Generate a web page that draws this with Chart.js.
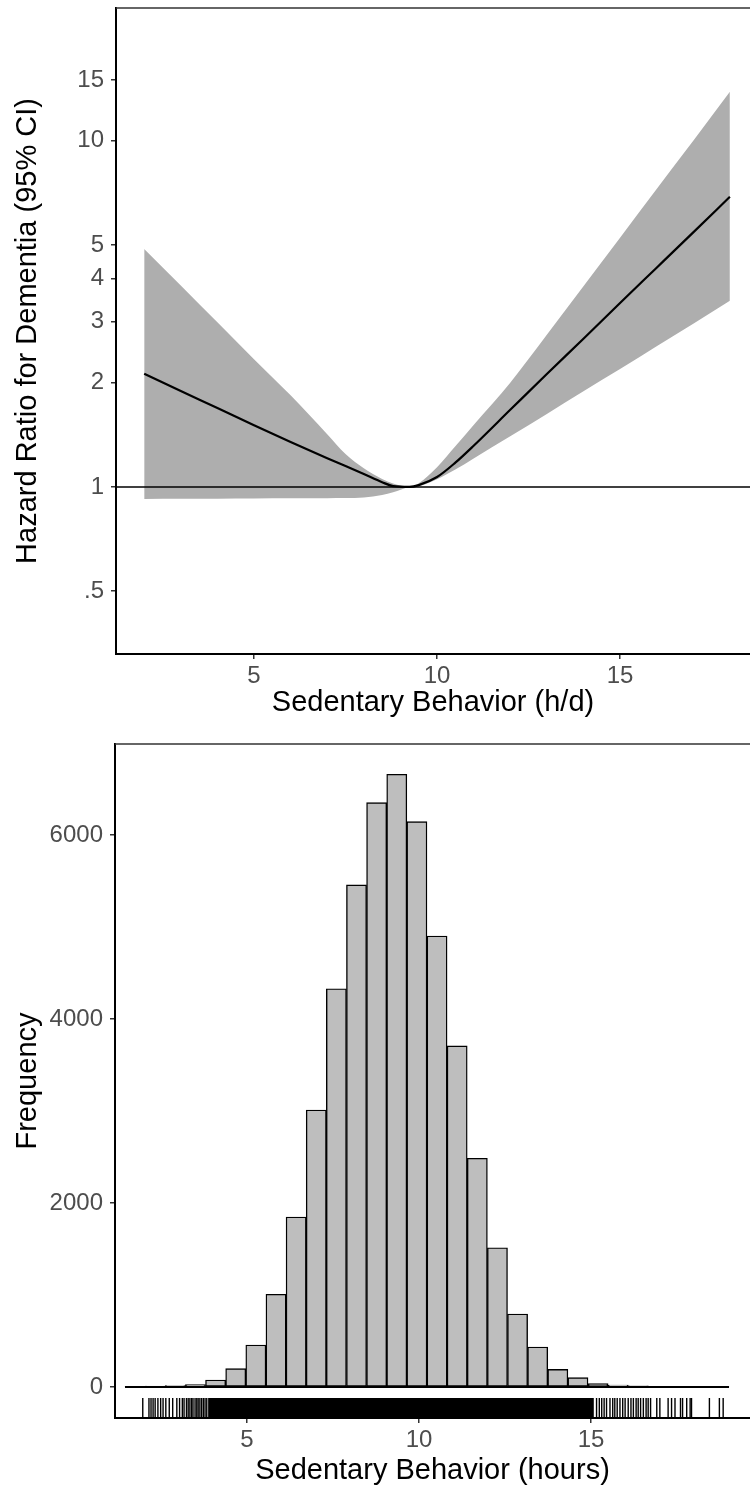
<!DOCTYPE html>
<html>
<head>
<meta charset="utf-8">
<script src="https://cdn.jsdelivr.net/npm/chart.js@4.4.1/dist/chart.umd.min.js"></script>
<style>
  html, body { margin: 0; padding: 0; background: #fff; }
  #wrap { position: relative; width: 750px; height: 1488px; }
  canvas { position: absolute; left: 0; }
  #hrChart { top: 0; }
  #histChart { top: 720px; }
</style>
</head>
<body>
<div id="wrap">
  <canvas id="hrChart" width="750" height="720"></canvas>
  <canvas id="histChart" width="750" height="768"></canvas>
</div>
<script>
// spline for hazard ratio (top panel)
const hrX      = [2, 3, 4, 5, 6, 7, 7.5, 8, 8.5, 8.8, 9.25, 9.5, 10, 10.5, 11, 12, 13, 14, 15, 16, 17, 18];
const hrValues = [2.123, 1.892, 1.69, 1.507, 1.349, 1.211, 1.150, 1.090, 1.032, 1.005, 1.0, 1.012, 1.068, 1.175, 1.315, 1.67, 2.12, 2.68, 3.40, 4.30, 5.44, 6.89];
const hrUpper  = [4.87, 3.82, 2.99, 2.34, 1.84, 1.42, 1.245, 1.132, 1.054, 1.023, 1.0, 1.025, 1.14, 1.31, 1.51, 2.0, 2.75, 3.80, 5.25, 7.26, 10.0, 13.86];
const hrLower  = [0.923, 0.924, 0.925, 0.926, 0.927, 0.928, 0.929, 0.932, 0.948, 0.965, 1.0, 1.005, 1.052, 1.122, 1.208, 1.40, 1.625, 1.89, 2.19, 2.55, 2.96, 3.45];
const hrRef = 1;
const hrTicks = [0.5, 1, 2, 3, 4, 5, 10, 15];
const hrTickLabels = ['.5', '1', '2', '3', '4', '5', '10', '15'];
const hrXRange = [1.23, 18.55];
const hrYRange = [0.329, 24.2];

// histogram (bottom panel)
const binCenters = [1.747, 2.332, 2.917, 3.502, 4.087, 4.672, 5.257, 5.843, 6.428, 7.013,
                    7.598, 8.183, 8.768, 9.353, 9.938, 10.523, 11.108, 11.694, 12.279, 12.864,
                    13.449, 14.034, 14.619, 15.204, 15.789, 16.374, 16.959, 17.545, 18.130, 18.715];
const binCounts  = [5, 10, 15, 25, 76, 199, 456, 1008, 1848, 3011,
                    4329, 5457, 6351, 6660, 6145, 4902, 3707, 2486, 1514, 793,
                    435, 192, 101, 36, 22, 12, 8, 6, 4, 5];
const histRange = [1.454, 19.01];
const rugDense = [3.87, 15.08];
const rugTicks = [1.97, 2.15, 2.21, 2.27, 2.33, 2.41, 2.49, 2.56, 2.64, 2.74, 2.84, 2.96, 3.04, 3.12, 3.17,
                  3.24, 3.29, 3.34, 3.39, 3.43, 3.49, 3.54, 3.58, 3.63, 3.68, 3.73, 3.78, 3.83,
                  15.16, 15.24, 15.31, 15.38, 15.45, 15.55, 15.63, 15.69, 15.76, 15.84, 15.92, 15.99,
                  16.08, 16.16, 16.23, 16.31, 16.37, 16.44, 16.52, 16.60, 16.66, 16.73, 16.91, 17.00,
                  17.24, 17.34, 17.44, 17.60, 17.66, 17.78, 17.88, 17.92, 18.44, 18.73, 18.84];
const rugLevel = -223;
const freqTicks = [0, 2000, 4000, 6000];
const freqTickLabels = ['0', '2000', '4000', '6000'];
const histXRange = [1.163, 19.62];
const histYRange = [-337, 6989];

const xTicks = [5, 10, 15];

const FONT = "'Liberation Sans', Arial, Helvetica, sans-serif";
const TICK_COLOR = '#4D4D4D';
const TICK_SIZE = 24;

function fixTicks(values) {
    return scale => { scale.ticks = values.map(v => ({ value: v })); };
}

// pin the axis box size and drop the label overflow padding
function fixSize(prop, size) {
    return s => {
        s[prop] = size;
        s.paddingTop = 0; s.paddingBottom = 0;
        s.paddingLeft = 0; s.paddingRight = 0;
    };
}

const topFrame = {
    id: 'topFrame',
    afterDraw(chart) {
        const { ctx, chartArea } = chart;
        ctx.save();
        ctx.strokeStyle = '#333';
        ctx.lineWidth = 1.5;
        ctx.beginPath();
        ctx.moveTo(chartArea.left, chartArea.top);
        ctx.lineTo(chartArea.right, chartArea.top);
        ctx.stroke();
        ctx.restore();
    }
};

function axisStyle(extra) {
    return Object.assign({
        grid: { drawOnChartArea: false, offset: false, color: '#333', lineWidth: 1.5, tickLength: 5 },
        border: { color: '#000', width: 2 },
    }, extra);
}

const pts = (xs, ys) => xs.map((x, i) => ({ x: x, y: ys[i] }));

new Chart(document.getElementById('hrChart'), {
    type: 'line',
    data: {
        datasets: [
            {
                data: pts(hrX, hrValues),
                borderColor: '#000',
                borderWidth: 2.2,
                pointRadius: 0,
                cubicInterpolationMode: 'monotone',
                fill: false
            },
            {
                data: pts(hrXRange, [hrRef, hrRef]),
                borderColor: '#000',
                borderWidth: 1.5,
                pointRadius: 0,
                fill: false
            },
            {
                data: pts(hrX, hrUpper),
                borderColor: 'rgba(0,0,0,0)',
                borderWidth: 0,
                pointRadius: 0,
                cubicInterpolationMode: 'monotone',
                backgroundColor: '#AEAEAE',
                fill: '+1'
            },
            {
                data: pts(hrX, hrLower),
                borderColor: 'rgba(0,0,0,0)',
                borderWidth: 0,
                pointRadius: 0,
                cubicInterpolationMode: 'monotone',
                fill: false
            }
        ]
    },
    options: {
        responsive: false,
        animation: false,
        devicePixelRatio: 1,
        layout: { autoPadding: false, padding: { top: 8, right: 0, bottom: 0, left: 0 } },
        plugins: { legend: { display: false }, tooltip: { enabled: false } },
        scales: {
            x: axisStyle({
                type: 'linear',
                min: hrXRange[0],
                max: hrXRange[1],
                afterBuildTicks: fixTicks(xTicks),
                afterFit: fixSize('height', 66),
                ticks: { color: TICK_COLOR, font: { family: FONT, size: TICK_SIZE }, padding: 3, maxRotation: 0, autoSkip: false },
                title: { display: true, text: 'Sedentary Behavior (h/d)', color: '#000', font: { family: FONT, size: 29 }, padding: { top: 0, bottom: 0 } }
            }),
            y: axisStyle({
                type: 'logarithmic',
                bounds: 'data',
                min: hrYRange[0],
                max: hrYRange[1],
                afterBuildTicks: fixTicks(hrTicks),
                afterFit: fixSize('width', 116),
                ticks: {
                    color: TICK_COLOR, font: { family: FONT, size: TICK_SIZE }, padding: 7, autoSkip: false,
                    callback: (v, i) => hrTickLabels[i]
                },
                title: { display: true, text: 'Hazard Ratio for Dementia (95% CI)', color: '#000', font: { family: FONT, size: 29 }, padding: { top: 11, bottom: 0 } }
            })
        }
    },
    plugins: [topFrame]
});

new Chart(document.getElementById('histChart'), {
    type: 'bar',
    data: {
        datasets: [
            {
                type: 'line',
                data: pts(histRange, [0, 0]),
                borderColor: '#000',
                borderWidth: 1.8,
                pointRadius: 0
            },
            {
                type: 'bar',
                data: pts(binCenters, binCounts),
                backgroundColor: '#BEBEBE',
                borderColor: '#000',
                borderWidth: 1.4,
                borderSkipped: false,
                barPercentage: 1,
                categoryPercentage: 1
            },
            {
                type: 'line',
                data: pts(rugDense, [rugLevel, rugLevel]),
                borderColor: '#000',
                borderWidth: 19,
                borderCapStyle: 'butt',
                pointRadius: 0
            },
            {
                type: 'line',
                showLine: false,
                data: rugTicks.map(x => ({ x: x, y: rugLevel })),
                pointStyle: 'line',
                pointRotation: 90,
                pointRadius: 9.5,
                pointBorderWidth: 1.4,
                pointBorderColor: '#000'
            }
        ]
    },
    options: {
        responsive: false,
        animation: false,
        devicePixelRatio: 1,
        layout: { autoPadding: false, padding: { top: 24, right: 0, bottom: 0, left: 0 } },
        plugins: { legend: { display: false }, tooltip: { enabled: false } },
        scales: {
            x: axisStyle({
                type: 'linear',
                offset: false,
                min: histXRange[0],
                max: histXRange[1],
                afterBuildTicks: fixTicks(xTicks),
                afterFit: fixSize('height', 70),
                ticks: { color: TICK_COLOR, font: { family: FONT, size: TICK_SIZE }, padding: 3, maxRotation: 0, autoSkip: false },
                title: { display: true, text: 'Sedentary Behavior (hours)', color: '#000', font: { family: FONT, size: 29 }, padding: { top: 0, bottom: 0 } }
            }),
            y: axisStyle({
                type: 'linear',
                min: histYRange[0],
                max: histYRange[1],
                afterBuildTicks: fixTicks(freqTicks),
                afterFit: fixSize('width', 115),
                ticks: {
                    color: TICK_COLOR, font: { family: FONT, size: TICK_SIZE }, padding: 7, autoSkip: false,
                    callback: (v, i) => freqTickLabels[i]
                },
                title: { display: true, text: 'Frequency', color: '#000', font: { family: FONT, size: 29 }, padding: { top: 11, bottom: 0 } }
            })
        }
    },
    plugins: [topFrame]
});
</script>
</body>
</html>
